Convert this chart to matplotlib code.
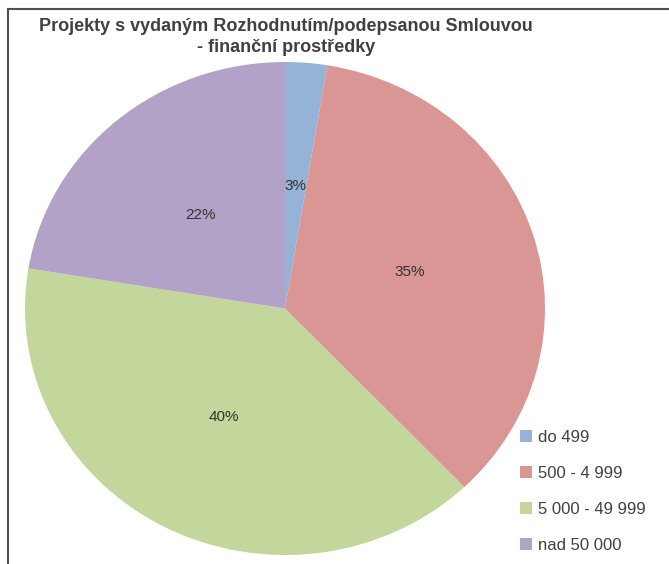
import matplotlib.pyplot as plt
from matplotlib.lines import Line2D

# slice shares (percent)
labels = ['do 499', '500 - 4 999', '5 000 - 49 999', 'nad 50 000']
values = [2.6, 35.3, 39.7, 22.4]
colors = ['#95b3d7', '#d99694', '#c3d69b', '#b3a2c7']
title = 'Projekty s vydaným Rozhodnutím/podepsanou Smlouvou\n- finanční prostředky'

plt.rcParams['font.family'] = ['Liberation Sans', 'DejaVu Sans']

W, H = 669, 564
fig = plt.figure(figsize=(W / 100, H / 100), dpi=100)

# pie box in pixels (the source image is a bit stretched sideways)
x0, x1, y0, y1 = 25, 545, 62, 555
ax = fig.add_axes([x0 / W, (H - y1) / H, (x1 - x0) / W, (y1 - y0) / H])
wedges, texts, autotexts = ax.pie(values, colors=colors, startangle=90, counterclock=False,
                                  autopct='%.0f%%', pctdistance=0.5,
                                  textprops={'fontsize': 11, 'color': '#333333'})
ax.set_aspect('auto')
ax.set_xlim(-1, 1)
ax.set_ylim(-1, 1)

fig.text(286 / W, 1 - 37 / H, title, ha='center', va='center', fontsize=13,
         fontweight='bold', color='#404040', linespacing=1.3)

fig.legend(wedges, labels, loc='upper left', bbox_to_anchor=(505 / W, 1 - 415 / H),
           frameon=False, fontsize=12, handlelength=0.7, handleheight=0.7,
           handletextpad=0.4, labelspacing=1.25, labelcolor='#404040')

# frame lines along top and left
fig.add_artist(Line2D([8 / W, 1], [1 - 9 / H, 1 - 9 / H], color='#505050', lw=1.5))
fig.add_artist(Line2D([8 / W, 8 / W], [0, 1 - 9 / H], color='#505050', lw=1.5))

fig.savefig('out.png', dpi=100)
